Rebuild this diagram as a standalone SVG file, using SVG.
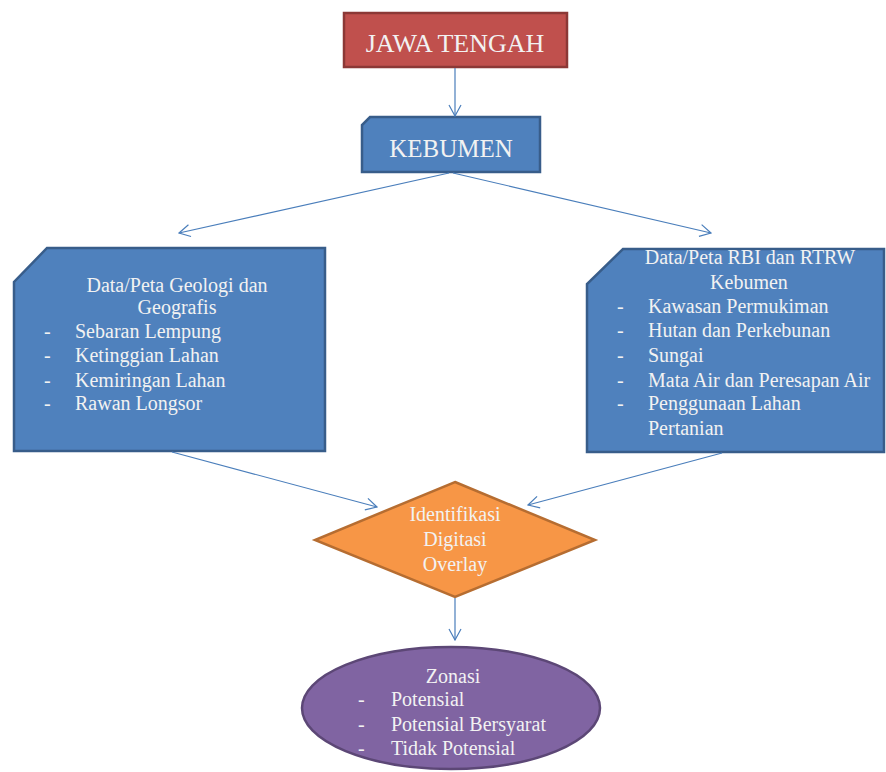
<svg xmlns="http://www.w3.org/2000/svg" width="886" height="772" viewBox="0 0 886 772">
<defs>
<marker id="arr" markerUnits="userSpaceOnUse" markerWidth="14" markerHeight="14" viewBox="0 0 14 14" refX="13" refY="7" orient="auto">
<path d="M2,1 L13,7 L2,13" fill="none" stroke="#4A7EBB" stroke-width="1.2"/>
</marker>
<style>
.t20{font-size:20px;}
.c{text-anchor:middle;}
.blue{fill:#4F81BD;stroke:#385D8A;stroke-width:2.5;}
.conn line{stroke:#4A7EBB;stroke-width:1.2;marker-end:url(#arr);}
</style>
</defs>
<rect width="886" height="772" fill="#FFFFFF"/>
<g font-family="'Liberation Serif', Tinos, 'Times New Roman', Times, 'Noto Serif', 'DejaVu Serif', FreeSerif, 'Nimbus Roman', serif" fill="#F2F2F2">
<g id="jawa-tengah">
<rect x="344" y="13" width="223" height="54" fill="#C0504D" stroke="#8C3836" stroke-width="2.5"/>
<text x="455" y="52" class="c" font-size="26">JAWA TENGAH</text>
</g>
<g id="kebumen">
<path d="M370,117 L540,117 L540,172 L362,172 L362,125 Z" class="blue"/>
<text x="451" y="157" class="c" font-size="25">KEBUMEN</text>
</g>
<g id="geologi">
<path d="M47,248 L325,248 L325,451 L14,451 L14,282 Z" class="blue"/>
<text x="177" y="292" class="c t20">Data/Peta Geologi dan</text>
<text x="177" y="314" class="c t20">Geografis</text>
<g class="t20">
<text x="44" y="338">-</text><text x="75" y="338">Sebaran Lempung</text>
<text x="44" y="362">-</text><text x="75" y="362">Ketinggian  Lahan</text>
<text x="44" y="387">-</text><text x="75" y="387">Kemiringan  Lahan</text>
<text x="44" y="410">-</text><text x="75" y="410">Rawan Longsor</text>
</g>
</g>
<g id="rbi-rtrw">
<path d="M623,249 L884,249 L884,452 L587,452 L587,284 Z" class="blue"/>
<text x="750" y="264" class="c t20">Data/Peta RBI dan RTRW</text>
<text x="749" y="289" class="c t20">Kebumen</text>
<g class="t20">
<text x="617" y="313">-</text><text x="648" y="313">Kawasan Permukiman</text>
<text x="617" y="337">-</text><text x="648" y="337">Hutan dan Perkebunan</text>
<text x="617" y="362">-</text><text x="648" y="362">Sungai</text>
<text x="617" y="387">-</text><text x="648" y="387">Mata Air  dan Peresapan Air</text>
<text x="617" y="410">-</text><text x="648" y="410">Penggunaan Lahan</text>
<text x="648" y="435">Pertanian</text>
</g>
</g>
<g id="identifikasi">
<path d="M455,482 L595,540 L455,597 L315,540 Z" fill="#F79646" stroke="#B66D31" stroke-width="2.5"/>
<text x="455" y="521" class="c t20">Identifikasi</text>
<text x="455" y="546" class="c t20">Digitasi</text>
<text x="455" y="571" class="c t20">Overlay</text>
</g>
<g id="zonasi">
<ellipse cx="451" cy="708" rx="149" ry="61" fill="#8064A2" stroke="#5C4776" stroke-width="2.5"/>
<text x="453" y="683" class="c t20">Zonasi</text>
<g class="t20">
<text x="358" y="706">-</text><text x="391" y="706">Potensial</text>
<text x="358" y="731">-</text><text x="391" y="731">Potensial Bersyarat</text>
<text x="358" y="755">-</text><text x="391" y="755">Tidak Potensial</text>
</g>
</g>
</g>
<g id="connectors" class="conn">
<line x1="455" y1="68" x2="455" y2="116"/>
<line x1="449" y1="173" x2="179" y2="233"/>
<line x1="453" y1="173" x2="711" y2="233"/>
<line x1="172" y1="452" x2="377" y2="507"/>
<line x1="722" y1="453" x2="528" y2="505"/>
<line x1="455" y1="598" x2="455" y2="640"/>
</g>
</svg>
